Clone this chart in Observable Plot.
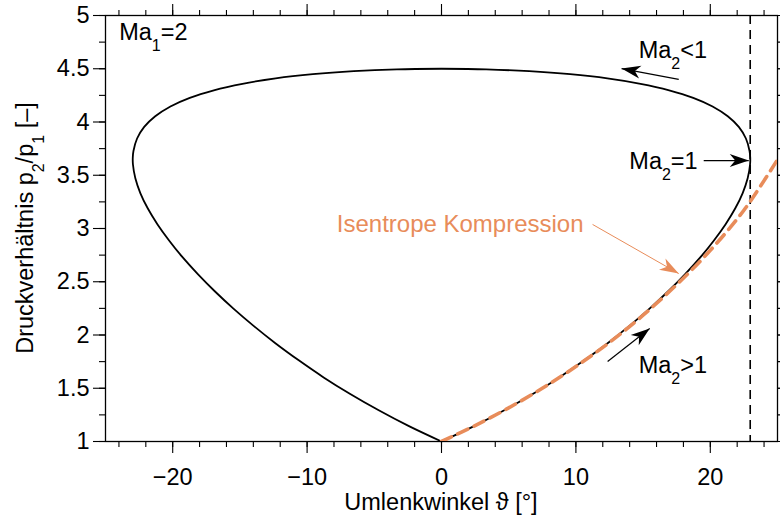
<!DOCTYPE html>
<html>
<head>
<meta charset="utf-8">
<script src="https://cdn.jsdelivr.net/npm/d3@7"></script>
<script src="https://cdn.jsdelivr.net/npm/@observablehq/plot@0.6"></script>
<style>
  body { margin: 0; background: #fff; }
  #chart svg { display: block; font-family: "Liberation Sans", Arial, Helvetica, sans-serif; }
</style>
</head>
<body>
<div id="chart"></div>
<script>
// Stoßpolare für Ma1 = 2 (gamma = 1.4): obere Hälfte für positive Umlenkwinkel,
// vom Machwellen-Punkt (0, 1) bis zum senkrechten Stoß (0, 4.5)
const polarTheta = [0, 2.42, 4.67, 6.79, 8.77, 10.62, 12.36, 13.98, 15.48, 16.87, 18.13,
  19.27, 20.27, 21.14, 21.86, 22.41, 22.78, 22.96, 22.97, 22.92, 22.65, 22.12, 21.30,
  20.17, 18.73, 16.94, 14.81, 12.34, 9.57, 6.53, 3.32, 0];
const polarP = [1, 1.144, 1.293, 1.446, 1.602, 1.762, 1.923, 2.086, 2.248, 2.411, 2.572,
  2.731, 2.888, 3.041, 3.190, 3.333, 3.471, 3.603, 3.667, 3.728, 3.845, 3.954, 4.054,
  4.146, 4.227, 4.298, 4.359, 4.410, 4.449, 4.477, 4.494, 4.5];

// Isentrope Kompression (Prandtl-Meyer)
const isoTheta = [0, 2.5, 5, 7.5, 10, 12.5, 15, 17.5, 20, 22.5, 25];
const isoP = [1, 1.149, 1.316, 1.500, 1.704, 1.931, 2.186, 2.473, 2.795, 3.171, 3.646];

// maximaler Umlenkwinkel
const thetaMax = [22.97];

// Achsen
const xMajor = [-20, -10, 0, 10, 20];
const xMinor = d3.range(-24, 25, 2);
const yMajor = [1, 1.5, 2, 2.5, 3, 3.5, 4, 4.5, 5];
const yMinor = d3.range(1, 5.01, 0.25);

// Beschriftungen (Unterstrich = Index)
const labelText = ["Ma_1=2", "Ma_2<1", "Ma_2>1"];
const labelX = [-23.98, 14.67, 14.67];
const labelY = [4.836, 4.673, 1.718];
const sonicText = ["Ma_2=1"];
const sonicX = [19.06];
const sonicY = [3.632];
const isoText = ["Isentrope Kompression"];
const isoTextX = [10.57];
const isoTextY = [3.04];

// Pfeile
const arrowX1 = [17.65, 19.51, 12.36, 11.24];
const arrowY1 = [4.40, 3.638, 1.751, 3.038];
const arrowX2 = [13.40, 22.86, 15.49, 17.65];
const arrowY2 = [4.502, 3.638, 2.061, 2.577];
const arrowColor = ["k", "k", "k", "o"];

const orange = "#e88c5a";
const fs = 23.5;

// geschlossene Polare: rechte Hälfte plus gespiegelte linke Hälfte
const polar = polarTheta.map((t, i) => ({t, p: polarP[i]}))
  .concat(polarTheta.slice().reverse().map((t, i) => ({t: -t, p: polarP[polarP.length - 1 - i]})));
const iso = isoTheta.map((t, i) => ({t, p: isoP[i]}));
const labels = labelText.map((s, i) => ({s, x: labelX[i], y: labelY[i]}));
const sonic = sonicText.map((s, i) => ({s, x: sonicX[i], y: sonicY[i]}));
const isoLab = isoText.map((s, i) => ({s, x: isoTextX[i], y: isoTextY[i]}));
const arrows = arrowX1.map((x1, i) => ({x1, y1: arrowY1[i], x2: arrowX2[i], y2: arrowY2[i], c: arrowColor[i]}));

const fmt = d => (d < 0 ? "\u2212" + (-d) : String(d));
const blank = () => "";

const chart = Plot.plot({
  width: 780,
  height: 518,
  marginLeft: 105,
  marginRight: 3,
  marginTop: 15,
  marginBottom: 77,
  x: {domain: [-25, 25]},
  y: {domain: [1, 5]},
  style: {fontFamily: '"Liberation Sans", Arial, Helvetica, sans-serif', fontSize: fs + "px", color: "#000", background: "#fff"},
  marks: [
    Plot.axisX({anchor: "bottom", ticks: xMinor, tickSize: 6, tickFormat: blank, label: null, strokeWidth: 1.1}),
    Plot.axisX({anchor: "bottom", ticks: xMajor, tickSize: 12, tickPadding: 15, tickFormat: fmt, label: null, fontSize: fs, strokeWidth: 1.1}),
    Plot.axisX({anchor: "top", ticks: xMinor, tickSize: 6, tickFormat: blank, label: null, strokeWidth: 1.1}),
    Plot.axisX({anchor: "top", ticks: xMajor, tickSize: 12, tickFormat: blank, label: null, strokeWidth: 1.1}),
    Plot.axisY({anchor: "left", ticks: yMinor, tickSize: 6, tickFormat: blank, label: null, strokeWidth: 1.1}),
    Plot.axisY({anchor: "left", ticks: yMajor, tickSize: 12, tickPadding: 4, tickFormat: fmt, label: null, fontSize: fs, strokeWidth: 1.1}),
    Plot.axisY({anchor: "right", ticks: yMinor, tickSize: 6, tickFormat: blank, label: null, strokeWidth: 1.1}),
    Plot.axisY({anchor: "right", ticks: yMajor, tickSize: 12, tickFormat: blank, label: null, strokeWidth: 1.1}),
    Plot.frame({stroke: "#000", strokeWidth: 1.3}),
    Plot.ruleX(thetaMax, {stroke: "#000", strokeWidth: 1.6, strokeDasharray: "9,6"}),
    Plot.line(polar, {x: "t", y: "p", curve: "catmull-rom", stroke: "#000", strokeWidth: 1.8}),
    Plot.line(iso, {x: "t", y: "p", curve: "catmull-rom", stroke: orange, strokeWidth: 3.6, strokeDasharray: "11,7", clip: true}),
    Plot.link(arrows, {x1: "x1", y1: "y1", x2: "x2", y2: "y2", stroke: d => d.c === "o" ? orange : "#000", strokeWidth: d => d.c === "o" ? 1 : 1.2, ariaDescription: "pfeile"}),
    Plot.text(labels, {x: "x", y: "y", text: "s", textAnchor: "start", lineAnchor: "middle", fontSize: fs, fill: "#000"}),
    Plot.text(sonic, {x: "x", y: "y", text: "s", textAnchor: "end", lineAnchor: "middle", fontSize: fs, fill: "#000"}),
    Plot.text(isoLab, {x: "x", y: "y", text: "s", textAnchor: "end", lineAnchor: "middle", fontSize: 24, fill: orange})
  ]
});

const svg = d3.select(chart);

// Pfeilspitzen
const defs = svg.insert("defs", ":first-child");
[["kopf-k", "#000"], ["kopf-o", orange]].forEach(([id, c]) => {
  defs.append("marker")
    .attr("id", id)
    .attr("viewBox", "-21 -8 22 16")
    .attr("refX", 0).attr("refY", 0)
    .attr("markerWidth", 22).attr("markerHeight", 16)
    .attr("markerUnits", "userSpaceOnUse")
    .attr("orient", "auto")
    .append("path")
    .attr("d", "M0,0L-19,-6.5L-13.5,0L-19,6.5Z")
    .attr("fill", c);
});
let linkPaths = svg.selectAll('g[aria-description="pfeile"] path');
if (linkPaths.empty()) linkPaths = svg.selectAll('g[aria-label="link"] path');
linkPaths.each(function(_, i) {
  d3.select(this).attr("marker-end", `url(#kopf-${arrows[i].c})`);
});

// Text mit Indizes: "Ma_2" -> Ma mit tiefgestellter 2
function richText(sel, str, subSize, shift) {
  sel.text(null);
  const parts = str.split(/_(.)/);
  let low = false;
  parts.forEach((p, i) => {
    if (i % 2 === 0) {
      if (p === "") return;
      const t = sel.append("tspan").text(p);
      if (low) { t.attr("dy", -shift); low = false; }
    } else {
      sel.append("tspan").text(p).attr("font-size", subSize).attr("dy", shift);
      low = true;
    }
  });
}
svg.selectAll("text").each(function() {
  const s = this.textContent;
  if (s.includes("_")) richText(d3.select(this), s, 16, 11);
});

// Achsentitel
const xs = chart.scale("x").range;
const ys = chart.scale("y").range;
svg.append("text")
  .attr("x", (xs[0] + xs[1]) / 2)
  .attr("y", 510)
  .attr("text-anchor", "middle")
  .attr("font-size", fs)
  .attr("fill", "#000")
  .text("Umlenkwinkel \u03D1 [\u00B0]");
const yl = svg.append("text")
  .attr("transform", `translate(33,${(ys[0] + ys[1]) / 2}) rotate(-90)`)
  .attr("text-anchor", "middle")
  .attr("font-size", fs)
  .attr("fill", "#000");
richText(yl, "Druckverhältnis p_2/p_1 [\u2013]", 16, 11);

document.getElementById("chart").appendChild(chart);
</script>
</body>
</html>
